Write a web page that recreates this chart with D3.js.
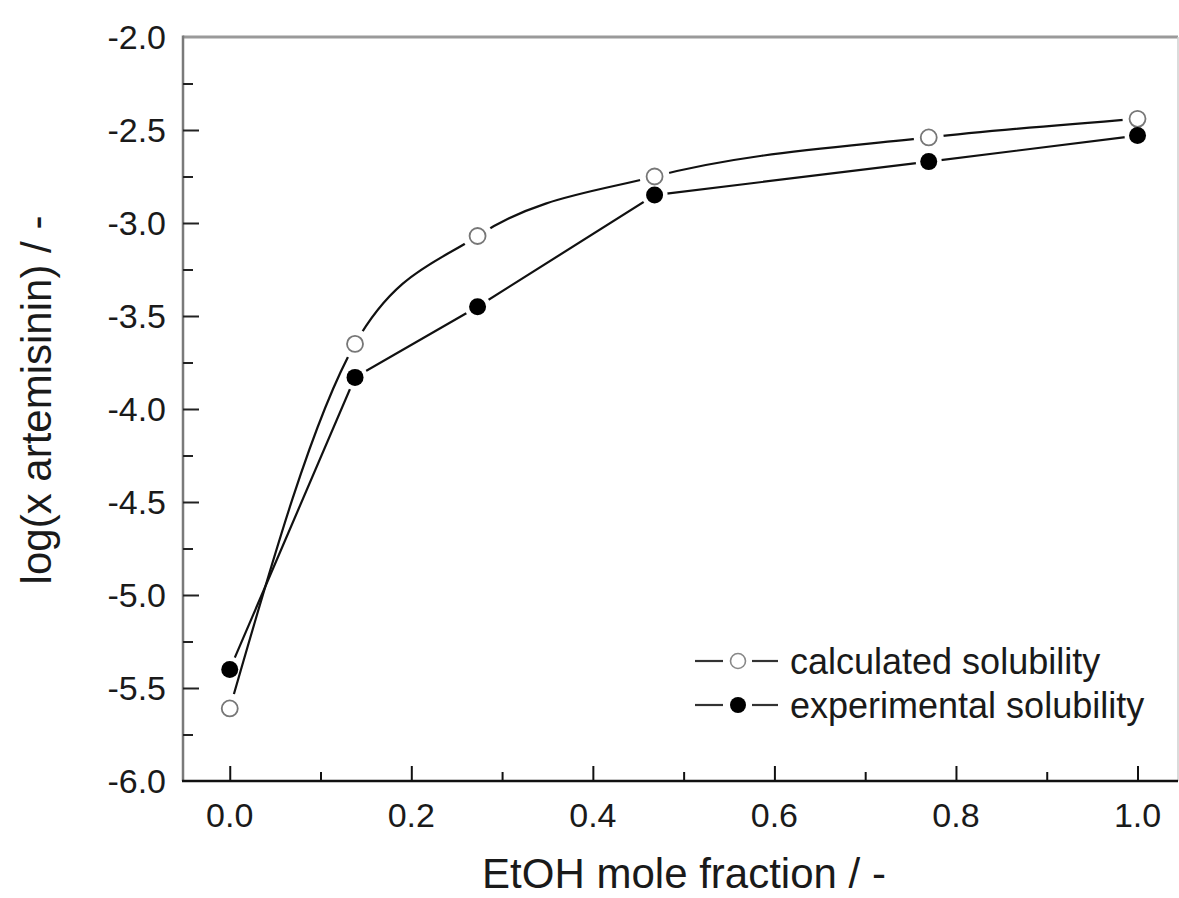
<!DOCTYPE html>
<html>
<head>
<meta charset="utf-8">
<script src="https://cdn.jsdelivr.net/npm/d3@7/dist/d3.min.js"></script>
<style>
  html, body { margin: 0; padding: 0; background: #fff; }
  svg { display: block; }
  text { font-family: "Liberation Sans", Arial, Helvetica, sans-serif; fill: #1a1a1a; }
</style>
</head>
<body>
<svg id="chart" width="1179" height="898"></svg>
<script>
// ---- data ----
const ethanolFraction = [0.0, 0.138, 0.273, 0.468, 0.770, 1.0];
const calculatedLog   = [-5.61, -3.65, -3.07, -2.75, -2.54, -2.44];
const experimentalLog = [-5.40, -3.83, -3.45, -2.85, -2.67, -2.53];
const xMajorTicks = [0.0, 0.2, 0.4, 0.6, 0.8, 1.0];
const xMinorTicks = [0.1, 0.3, 0.5, 0.7, 0.9];
const yMajorTicks = [-6.0, -5.5, -5.0, -4.5, -4.0, -3.5, -3.0, -2.5, -2.0];
const yMinorTicks = [-5.75, -5.25, -4.75, -4.25, -3.75, -3.25, -2.75, -2.25];
const seriesNames = ["calculated solubility", "experimental solubility"];
const xTitle = "EtOH mole fraction / -";
const yTitle = "log(x artemisinin) / -";

// ---- layout ----
const L = 183, R = 1178, T = 37, B = 781;
const svg = d3.select("#chart");
const x = d3.scaleLinear().domain([-0.0515, 1.0446]).range([L, R]);
const y = d3.scaleLinear().domain([-6, -2]).range([B, T]);

const calc = ethanolFraction.map((v, i) => [v, calculatedLog[i]]);
const expt = ethanolFraction.map((v, i) => [v, experimentalLog[i]]);

// masks to create gaps around markers
const defs = svg.append("defs");
function makeMask(id, pts, r) {
  const m = defs.append("mask").attr("id", id).attr("maskUnits", "userSpaceOnUse")
    .attr("x", 0).attr("y", 0).attr("width", 1179).attr("height", 898);
  m.append("rect").attr("width", 1179).attr("height", 898).attr("fill", "#fff");
  m.selectAll("circle").data(pts).join("circle")
    .attr("cx", d => x(d[0])).attr("cy", d => y(d[1])).attr("r", r).attr("fill", "#000");
}
makeMask("mCalc", calc, 15);
makeMask("mExp", expt, 13);

// ---- frame ----
svg.append("line").attr("x1", L).attr("x2", R).attr("y1", T).attr("y2", T)
  .attr("stroke", "#9a9a9a").attr("stroke-width", 3);
svg.append("line").attr("x1", R).attr("x2", R).attr("y1", T).attr("y2", B)
  .attr("stroke", "#cfcfcf").attr("stroke-width", 1.5);
svg.append("line").attr("x1", L).attr("x2", L).attr("y1", T - 1.5).attr("y2", B)
  .attr("stroke", "#7a7a7a").attr("stroke-width", 2.5);
svg.append("line").attr("x1", L - 1).attr("x2", R).attr("y1", B).attr("y2", B)
  .attr("stroke", "#111").attr("stroke-width", 2.5);

// ---- axes (inward ticks) ----
const xAxisMajor = d3.axisTop(x).tickValues(xMajorTicks).tickSize(15).tickFormat("");
const xAxisMinor = d3.axisTop(x).tickValues(xMinorTicks).tickSize(9).tickFormat("");
const gx1 = svg.append("g").attr("transform", `translate(0,${B})`).call(xAxisMajor);
const gx2 = svg.append("g").attr("transform", `translate(0,${B})`).call(xAxisMinor);
[gx1, gx2].forEach(g => { g.select(".domain").remove(); g.selectAll("line").attr("stroke", "#111").attr("stroke-width", 2); });

const yAxisMajor = d3.axisRight(y).tickValues(yMajorTicks.filter(v => v > -6 && v < -2)).tickSize(16).tickFormat("");
const yAxisMinor = d3.axisRight(y).tickValues(yMinorTicks).tickSize(10).tickFormat("");
const gy1 = svg.append("g").attr("transform", `translate(${L},0)`).call(yAxisMajor);
const gy2 = svg.append("g").attr("transform", `translate(${L},0)`).call(yAxisMinor);
[gy1, gy2].forEach(g => { g.select(".domain").remove(); g.selectAll("line").attr("stroke", "#222").attr("stroke-width", 2); });

// tick labels (plain hyphen-minus, as in the reference)
const fmt = v => d3.format(".1f")(v).replace("\u2212", "-");
svg.append("g").selectAll("text").data(xMajorTicks).join("text")
  .attr("x", d => x(d)).attr("y", 826.5).attr("text-anchor", "middle")
  .attr("font-size", 34).text(d => fmt(d));
svg.append("g").selectAll("text").data(yMajorTicks).join("text")
  .attr("x", 166).attr("y", d => y(d)).attr("dy", "0.36em").attr("text-anchor", "end")
  .attr("font-size", 34).text(d => fmt(d));

// axis titles
svg.append("text").attr("x", 684).attr("y", 888).attr("text-anchor", "middle")
  .attr("font-size", 42).text(xTitle);
svg.append("text").attr("transform", "translate(51,400) rotate(-90)").attr("text-anchor", "middle")
  .attr("font-size", 42).text(yTitle);

// ---- series ----
const lineCalc = d3.line().x(d => x(d[0])).y(d => y(d[1])).curve(d3.curveMonotoneX);
const lineExp = d3.line().x(d => x(d[0])).y(d => y(d[1])).curve(d3.curveLinear);
svg.append("path").datum(calc).attr("d", lineCalc).attr("fill", "none")
  .attr("stroke", "#111").attr("stroke-width", 2.2).attr("mask", "url(#mCalc)");
svg.append("path").datum(expt).attr("d", lineExp).attr("fill", "none")
  .attr("stroke", "#111").attr("stroke-width", 2.2).attr("mask", "url(#mExp)");

svg.append("g").selectAll("circle").data(calc).join("circle")
  .attr("cx", d => x(d[0])).attr("cy", d => y(d[1])).attr("r", 8)
  .attr("fill", "#fff").attr("stroke", "#777").attr("stroke-width", 1.8);
svg.append("g").selectAll("circle").data(expt).join("circle")
  .attr("cx", d => x(d[0])).attr("cy", d => y(d[1])).attr("r", 8.5)
  .attr("fill", "#000");

// ---- legend ----
const legendRows = [
  { name: seriesNames[0], yPos: 661, open: true },
  { name: seriesNames[1], yPos: 705, open: false }
];
const lg = svg.append("g");
legendRows.forEach(r => {
  lg.append("line").attr("x1", 695).attr("x2", 723).attr("y1", r.yPos).attr("y2", r.yPos)
    .attr("stroke", "#333").attr("stroke-width", 2.2);
  lg.append("line").attr("x1", 752).attr("x2", 778).attr("y1", r.yPos).attr("y2", r.yPos)
    .attr("stroke", "#333").attr("stroke-width", 2.2);
  lg.append("circle").attr("cx", 738).attr("cy", r.yPos).attr("r", r.open ? 7.5 : 8)
    .attr("fill", r.open ? "#fff" : "#000").attr("stroke", r.open ? "#888" : "none").attr("stroke-width", 1.6);
  lg.append("text").attr("x", 790).attr("y", r.yPos).attr("dy", "0.36em")
    .attr("font-size", 36).text(r.name);
});
</script>
</body>
</html>
